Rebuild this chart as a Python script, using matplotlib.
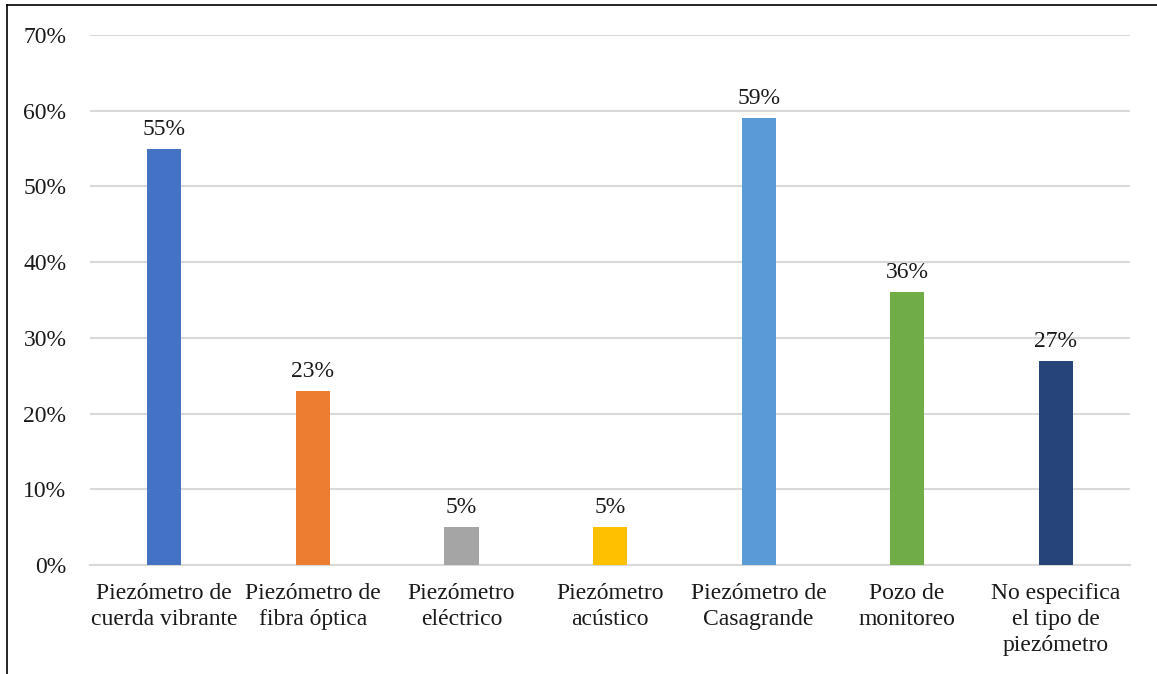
import matplotlib
matplotlib.use('Agg')
import matplotlib.pyplot as plt
from matplotlib.lines import Line2D
from matplotlib.ticker import MultipleLocator, FuncFormatter

categorias = ['Piezómetro de\ncuerda vibrante', 'Piezómetro de\nfibra óptica',
              'Piezómetro\neléctrico', 'Piezómetro\nacústico',
              'Piezómetro de\nCasagrande', 'Pozo de\nmonitoreo',
              'No especifica\nel tipo de\npiezómetro']
valores = [55, 23, 5, 5, 59, 36, 27]
colores = ['#4472C4', '#ED7D31', '#A5A5A5', '#FFC000', '#5B9BD5', '#70AD47', '#264478']

plt.rcParams['font.family'] = ['Liberation Serif', 'DejaVu Serif']

fig = plt.figure(figsize=(11.57, 6.74), dpi=100)
ax = fig.add_axes([0.0778, 0.1617, 0.8989, 0.7863])

x = range(len(categorias))
ax.bar(x, valores, width=0.23, color=colores, zorder=3)
for i, v in zip(x, valores):
    ax.text(i, v + 1.2, f'{v}%', ha='center', va='bottom', fontsize=17, color='#1a1a1a')

ax.set_xlim(-0.5, len(categorias) - 0.5)
ax.set_ylim(0, 70)
ax.yaxis.set_major_locator(MultipleLocator(10))
ax.yaxis.set_major_formatter(FuncFormatter(lambda v, p: f'{v:.0f}%'))
ax.grid(axis='y', color='#D9D9D9', linewidth=1.5, zorder=0)
ax.set_xticks(list(x))
ax.set_xticklabels(categorias, fontsize=17, color='#1a1a1a', linespacing=1.3)
ax.tick_params(axis='y', length=0, pad=17, labelsize=17, labelcolor='#1a1a1a')
ax.tick_params(axis='x', length=0, pad=13)
for s in ['top', 'right', 'left']:
    ax.spines[s].set_visible(False)
ax.spines['bottom'].set_color('#D9D9D9')
ax.spines['bottom'].set_linewidth(1.5)

# marco exterior (izquierda y arriba)
fig.add_artist(Line2D([7 / 1157, 7 / 1157], [0, 1 - 5 / 674], color='black', linewidth=1.2))
fig.add_artist(Line2D([7 / 1157, 1], [1 - 5 / 674, 1 - 5 / 674], color='black', linewidth=1.2))

fig.savefig('out.png', dpi=100)
